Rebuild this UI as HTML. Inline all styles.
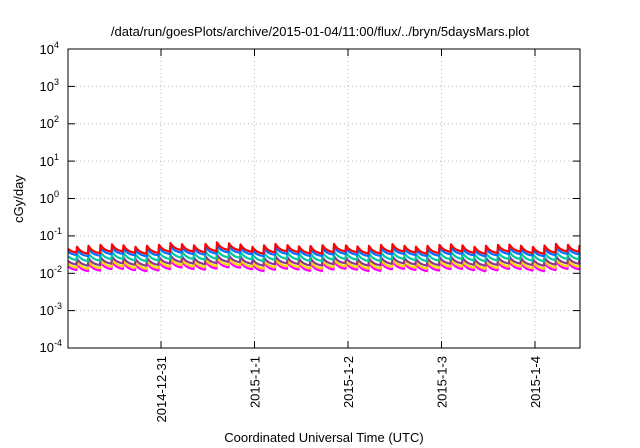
<!DOCTYPE html>
<html><head><meta charset="utf-8"><style>
body{margin:0;background:#fff;}
svg{display:block;font-family:"Liberation Sans",sans-serif;}
</style></head><body>
<svg id="s" width="640" height="448" xmlns="http://www.w3.org/2000/svg">
<rect width="640" height="448" fill="#fff"/>
<text x="320" y="36" font-size="13" text-anchor="middle">/data/run/goesPlots/archive/2015-01-04/11:00/flux/../bryn/5daysMars.plot</text>
<g stroke="#bbb" stroke-dasharray="1,3" stroke-width="1">
<line x1="68" x2="580" y1="86.4" y2="86.4"/><line x1="68" x2="580" y1="123.8" y2="123.8"/>
<line x1="68" x2="580" y1="161.1" y2="161.1"/><line x1="68" x2="580" y1="198.5" y2="198.5"/>
<line x1="68" x2="580" y1="235.9" y2="235.9"/><line x1="68" x2="580" y1="273.3" y2="273.3"/>
<line x1="68" x2="580" y1="310.6" y2="310.6"/>
<line x1="161" x2="161" y1="49" y2="348"/><line x1="254.5" x2="254.5" y1="49" y2="348"/>
<line x1="348" x2="348" y1="49" y2="348"/><line x1="441.5" x2="441.5" y1="49" y2="348"/>
<line x1="535" x2="535" y1="49" y2="348"/>
</g>
<g id="series" fill="none" stroke-width="2.2" stroke-linejoin="round"></g>
<rect x="68" y="49" width="512" height="299" fill="none" stroke="#000" stroke-width="1"/>
<g stroke="#000">
<line x1="68" x2="75" y1="86.4" y2="86.4"/><line x1="68" x2="75" y1="123.8" y2="123.8"/>
<line x1="68" x2="75" y1="161.1" y2="161.1"/><line x1="68" x2="75" y1="198.5" y2="198.5"/>
<line x1="68" x2="75" y1="235.9" y2="235.9"/><line x1="68" x2="75" y1="273.3" y2="273.3"/>
<line x1="68" x2="75" y1="310.6" y2="310.6"/>
<line x1="573" x2="580" y1="86.4" y2="86.4"/><line x1="573" x2="580" y1="123.8" y2="123.8"/>
<line x1="573" x2="580" y1="161.1" y2="161.1"/><line x1="573" x2="580" y1="198.5" y2="198.5"/>
<line x1="573" x2="580" y1="235.9" y2="235.9"/><line x1="573" x2="580" y1="273.3" y2="273.3"/>
<line x1="573" x2="580" y1="310.6" y2="310.6"/>
<line x1="161" x2="161" y1="348" y2="341"/><line x1="254.5" x2="254.5" y1="348" y2="341"/>
<line x1="348" x2="348" y1="348" y2="341"/><line x1="441.5" x2="441.5" y1="348" y2="341"/>
<line x1="535" x2="535" y1="348" y2="341"/>
<line x1="161" x2="161" y1="49" y2="56"/><line x1="254.5" x2="254.5" y1="49" y2="56"/>
<line x1="348" x2="348" y1="49" y2="56"/><line x1="441.5" x2="441.5" y1="49" y2="56"/>
<line x1="535" x2="535" y1="49" y2="56"/>
</g>
<g font-size="13" text-anchor="end">
<text x="59" y="54">10<tspan font-size="9" dy="-6">4</tspan></text>
<text x="59" y="91">10<tspan font-size="9" dy="-6">3</tspan></text>
<text x="59" y="128">10<tspan font-size="9" dy="-6">2</tspan></text>
<text x="59" y="166">10<tspan font-size="9" dy="-6">1</tspan></text>
<text x="59" y="203">10<tspan font-size="9" dy="-6">0</tspan></text>
<text x="62" y="240">10<tspan font-size="9" dy="-6">-1</tspan></text>
<text x="62" y="278">10<tspan font-size="9" dy="-6">-2</tspan></text>
<text x="62" y="315">10<tspan font-size="9" dy="-6">-3</tspan></text>
<text x="62" y="352">10<tspan font-size="9" dy="-6">-4</tspan></text>
</g>
<g font-size="13" text-anchor="end">
<text transform="translate(166,356) rotate(-90)">2014-12-31</text>
<text transform="translate(259.5,356) rotate(-90)">2015-1-1</text>
<text transform="translate(353,356) rotate(-90)">2015-1-2</text>
<text transform="translate(446.5,356) rotate(-90)">2015-1-3</text>
<text transform="translate(540,356) rotate(-90)">2015-1-4</text>
</g>
<text transform="translate(23,199) rotate(-90)" font-size="13" text-anchor="middle">cGy/day</text>
<text x="324" y="442" font-size="13" text-anchor="middle">Coordinated Universal Time (UTC)</text>
</svg>
<script>
var g=document.getElementById('series');
var ser=[["#ff00ff",262,8],["#ffd700",260,7.5],["#8b3a8b",257,7.5],["#00c8a0",252,8],["#0070ff",248,7],["#ff0000",245,7.5]];
var P=11.69;
ser.forEach(function(s,i){
 var d="";var x0=68;
 for(var x=68;x<=580;x+=0.5){
  var k=Math.floor((x-x0+3)/P);var ph=((x-x0+3)-k*P)/P;
  var drift=Math.sin(k*1.3)*1.2+(k>8&&k<16?-1.5:0);
  var y=s[1]+drift+s[2]*(1-Math.exp(-ph*2.5))/(1-Math.exp(-2.5));
  d+=(d?"L":"M")+x.toFixed(1)+","+y.toFixed(1);
 }
 var p=document.createElementNS("http://www.w3.org/2000/svg","path");
 p.setAttribute("d",d);p.setAttribute("stroke",s[0]);g.appendChild(p);
});
</script>
</body></html>
